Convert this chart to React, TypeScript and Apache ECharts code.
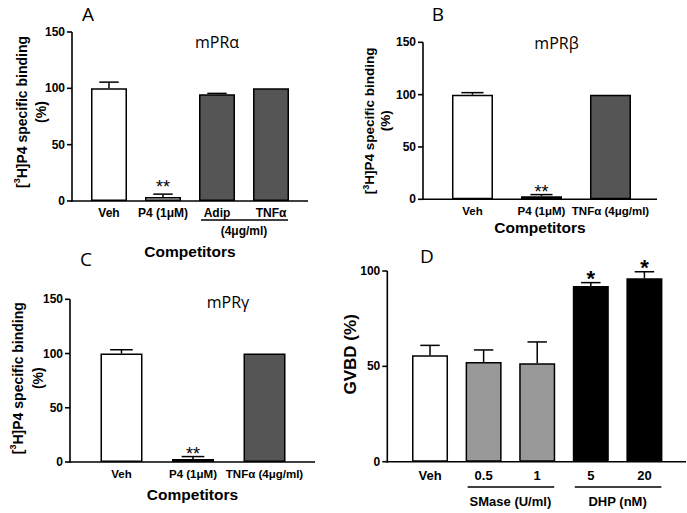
import React, { useEffect, useRef } from "react";
import * as echarts from "echarts";

// ---------- data ----------
const catsA = ["Veh", "P4 (1μM)", "Adip", "TNFα"];
const valsA = [100, 3.5, 94.7, 100];
const errA = [5.5, 2.6, 0.8, 0];
const sigA = ["", "**", "", ""];
const groupLabelsA = ["(4μg/ml)"];
const groupSpansA = [[2, 3]];

const catsB = ["Veh", "P4 (1μM)", "TNFα (4μg/ml)"];
const valsB = [100, 3.0, 100];
const errB = [1.9, 1.5, 0];
const sigB = ["", "**", ""];

const catsC = ["Veh", "P4 (1μM)", "TNFα (4μg/ml)"];
const valsC = [100, 2.8, 100];
const errC = [3.5, 2.2, 0];
const sigC = ["", "**", ""];

const catsD = ["Veh", "0.5", "1", "5", "20"];
const valsD = [55.8, 52.3, 51.6, 92.1, 96.2];
const errD = [5.2, 6.3, 11.2, 1.8, 3.4];
const sigD = ["", "", "", "*", "*"];
const groupLabelsD = ["SMase (U/ml)", "DHP (nM)"];
const groupSpansD = [[1, 2], [3, 4]];

const yTicksBinding = [0, 50, 100, 150];
const yTicksGVBD = [0, 50, 100];

const panelLetters = ["A", "B", "C", "D"];
const receptorTitles = ["mPRα", "mPRβ", "mPRγ"];
const bindingName = "[{s|3}H]P4 specific binding\n(%)";
const gvbdName = "GVBD (%)";
const xName = "Competitors";

// ---------- styles ----------
const FONT = '"Liberation Sans", Arial, sans-serif';
const TFONT = '"Open Sans", "Noto Sans", sans-serif';
const colorsA = ["#ffffff", "#d9d9d9", "#555555", "#555555"];
const colorsB = ["#ffffff", "#9a9a9a", "#555555"];
const colorsC = ["#ffffff", "#888888", "#555555"];
const colorsD = ["#ffffff", "#999999", "#999999", "#000000", "#000000"];

type Panel = {
  cats: string[];
  vals: number[];
  err: number[];
  sig: string[];
  colors: string[];
  yTicks: number[];
  groupLabels?: string[];
  groupSpans?: number[][];
  axisX: number; // pixel x of the y axis
  right: number; // pixel x of the end of the x axis
  top: number;
  height: number;
  gridL: number; // grid starts further left so the axis marks lie inside it
  padL: number;
  padR: number;
  barW: number;
  labelFont: number;
  labelMargin: number;
  yLabelFont: number;
  yName: string;
  yNameGap: number;
  yNamePad: number;
  yNameFont: number;
  yNameLH: number;
  xName?: string;
  xNameGap?: number;
  sigFont: number;
  sigBold: boolean;
  sigOff: number;
  groupFont?: number;
  groupLineOff?: number;
  groupTextOff?: number;
};

const panels: Panel[] = [
  {
    cats: catsA, vals: valsA, err: errA, sig: sigA, colors: colorsA, yTicks: yTicksBinding,
    groupLabels: groupLabelsA, groupSpans: groupSpansA,
    axisX: 72, right: 308, top: 32, height: 169, gridL: -20,
    padL: 0.685, padR: 0.685, barW: 36,
    labelFont: 12, labelMargin: 6, yLabelFont: 12,
    yName: bindingName, yNameGap: 22, yNamePad: 9, yNameFont: 14, yNameLH: 19,
    xName, xNameGap: 42,
    sigFont: 18, sigBold: false, sigOff: 7,
    groupFont: 12, groupLineOff: 19, groupTextOff: 30,
  },
  {
    cats: catsB, vals: valsB, err: errB, sig: sigB, colors: colorsB, yTicks: yTicksBinding,
    axisX: 423, right: 657, top: 42.3, height: 157, gridL: 340,
    padL: 0.717, padR: 0.674, barW: 41,
    labelFont: 11.5, labelMargin: 6, yLabelFont: 12,
    yName: bindingName, yNameGap: 30, yNamePad: 0, yNameFont: 13.5, yNameLH: 16,
    xName, xNameGap: 20,
    sigFont: 18, sigBold: false, sigOff: 3,
  },
  {
    cats: catsC, vals: valsC, err: errC, sig: sigC, colors: colorsC, yTicks: yTicksBinding,
    axisX: 70, right: 315, top: 299.3, height: 162.7, gridL: -20,
    padL: 0.72, padR: 0.706, barW: 42,
    labelFont: 11.5, labelMargin: 6, yLabelFont: 12,
    yName: bindingName, yNameGap: 22, yNamePad: 5, yNameFont: 14, yNameLH: 20,
    xName, xNameGap: 24,
    sigFont: 18, sigBold: false, sigOff: 3,
  },
  {
    cats: catsD, vals: valsD, err: errD, sig: sigD, colors: colorsD, yTicks: yTicksGVBD,
    groupLabels: groupLabelsD, groupSpans: groupSpansD,
    axisX: 387.3, right: 686, top: 271, height: 190.7, gridL: 336,
    padL: 0.797, padR: 0.776, barW: 36,
    labelFont: 13, labelMargin: 7, yLabelFont: 12,
    yName: gvbdName, yNameGap: 28, yNamePad: 24, yNameFont: 17, yNameLH: 18,
    sigFont: 22, sigBold: true, sigOff: 4,
    groupFont: 13, groupLineOff: 25.3, groupTextOff: 39.5,
  },
];

// positions of panel letters / receptor titles (layout)
const letterPos = [[88, 14], [438, 14], [86, 259], [427, 256]];
const titlePos = [[217, 42], [556.5, 43], [228, 302]];

const textStyle = (extra: any) => ({
  fill: "#000",
  fontFamily: FONT,
  align: "center",
  verticalAlign: "middle",
  textAlign: "center",
  textVerticalAlign: "middle",
  ...extra,
});

function buildOption() {
  const grid: any[] = [];
  const xAxis: any[] = [];
  const yAxis: any[] = [];
  const series: any[] = [];

  panels.forEach((p, k) => {
    const off = p.padL;
    const pos = (i: number) => i + off;
    const span = p.cats.length - 1 + p.padL + p.padR;
    const step = (p.right - p.axisX) / span;
    const extra = p.axisX - p.gridL;
    const yMax = p.yTicks[p.yTicks.length - 1];

    grid.push({
      left: p.gridL,
      top: p.top,
      width: p.right - p.gridL,
      height: p.height,
      containLabel: false,
      outerBoundsMode: "none",
    });
    xAxis.push({
      type: "value",
      gridIndex: k,
      min: -extra / step,
      max: span,
      axisLine: { show: false },
      axisTick: { show: false },
      splitLine: { show: false },
      axisLabel: {
        customValues: p.cats.map((_, i) => pos(i)),
        formatter: (v: number) => p.cats[Math.round(v - off)] ?? "",
        color: "#000",
        fontFamily: FONT,
        fontWeight: "bold",
        fontSize: p.labelFont,
        margin: p.labelMargin,
      },
      name: p.xName ?? "",
      nameLocation: "middle",
      nameGap: p.xNameGap ?? 20,
      nameTextStyle: {
        color: "#000",
        fontFamily: FONT,
        fontWeight: "bold",
        fontSize: 15.5,
        padding: [0, 0, 0, extra],
      },
    });
    yAxis.push({
      type: "value",
      gridIndex: k,
      min: 0,
      max: yMax,
      interval: p.yTicks[1] - p.yTicks[0],
      axisLine: { show: false, onZero: false },
      axisTick: { show: false },
      axisLabel: { show: false },
      splitLine: { show: false },
      name: p.yName,
      nameLocation: "middle",
      nameGap: p.yNameGap - extra,
      nameRotate: 90,
      nameTextStyle: {
        color: "#000",
        fontFamily: FONT,
        fontWeight: "bold",
        fontSize: p.yNameFont,
        lineHeight: p.yNameLH,
        padding: [0, 0, 0, p.yNamePad],
        rich: {
          s: {
            fontFamily: FONT,
            fontWeight: "bold",
            fontSize: 9,
            color: "#000",
            verticalAlign: "top",
            lineHeight: p.yNameLH,
          },
        },
      },
    });

    // axis lines, ticks and tick labels, placed through the axis scales
    series.push({
      type: "custom",
      xAxisIndex: k,
      yAxisIndex: k,
      clip: false,
      zlevel: 1,
      z: 10,
      silent: true,
      data: p.yTicks.map((t) => [0, t]),
      renderItem: (params: any, api: any) => {
        const t = api.value(1);
        const c = api.coord([0, t]);
        const children: any[] = [
          {
            type: "line",
            shape: { x1: c[0] - 5, y1: c[1], x2: c[0], y2: c[1] },
            style: { stroke: "#000", lineWidth: 1.6 },
          },
          {
            type: "text",
            x: c[0] - 7,
            y: c[1],
            style: textStyle({
              text: String(t),
              fontSize: p.yLabelFont,
              fontWeight: "bold",
              align: "right",
              textAlign: "right",
            }),
          },
        ];
        if (params.dataIndex === 0) {
          const top = api.coord([0, yMax]);
          const end = api.coord([span, 0]);
          children.push({
            type: "line",
            shape: { x1: c[0], y1: c[1] + 0.8, x2: top[0], y2: top[1] },
            style: { stroke: "#000", lineWidth: 1.6 },
          });
          children.push({
            type: "line",
            shape: { x1: c[0] - 0.8, y1: c[1], x2: end[0], y2: end[1] },
            style: { stroke: "#000", lineWidth: 1.6 },
          });
        }
        return { type: "group", children };
      },
    });

    series.push({
      type: "bar",
      xAxisIndex: k,
      yAxisIndex: k,
      barWidth: p.barW,
      data: p.vals.map((v, i) => ({
        value: [pos(i), v],
        itemStyle: { color: p.colors[i], borderColor: "#000", borderWidth: 1.5 },
      })),
      z: 2,
    });

    const capHalf = p.barW * 0.27;
    series.push({
      type: "custom",
      xAxisIndex: k,
      yAxisIndex: k,
      clip: false,
      z: 3,
      data: p.vals.map((v, i) => [pos(i), v, p.err[i]]),
      renderItem: (params: any, api: any) => {
        const i = params.dataIndex;
        const x = api.value(0);
        const v = api.value(1);
        const e = api.value(2);
        const p0 = api.coord([x, v]);
        const p1 = api.coord([x, v + e]);
        const children: any[] = [];
        if (e > 0) {
          children.push({
            type: "line",
            shape: { x1: p0[0], y1: p0[1], x2: p1[0], y2: p1[1] },
            style: { stroke: "#000", lineWidth: 1.5 },
          });
          children.push({
            type: "line",
            shape: { x1: p1[0] - capHalf, y1: p1[1], x2: p1[0] + capHalf, y2: p1[1] },
            style: { stroke: "#000", lineWidth: 1.5 },
          });
        }
        if (p.sig[i]) {
          children.push({
            type: "text",
            x: p1[0],
            y: p1[1] - p.sigOff,
            style: textStyle({
              text: p.sig[i],
              fontSize: p.sigFont,
              fontWeight: p.sigBold ? "bold" : "normal",
            }),
          });
        }
        return { type: "group", children };
      },
    });

    if (p.groupSpans && p.groupLabels) {
      const half = p.barW / 2;
      series.push({
        type: "custom",
        xAxisIndex: k,
        yAxisIndex: k,
        clip: false,
        z: 3,
        data: p.groupSpans.map((s) => [pos(s[0]), pos(s[1])]),
        renderItem: (params: any, api: any) => {
          const i = params.dataIndex;
          const a = api.coord([api.value(0), 0]);
          const b = api.coord([api.value(1), 0]);
          const y0 = a[1];
          const ly = y0 + (p.groupLineOff ?? 20);
          return {
            type: "group",
            children: [
              {
                type: "line",
                shape: { x1: a[0] - half + 2, y1: ly, x2: b[0] + half - 1, y2: ly },
                style: { stroke: "#000", lineWidth: 1.5 },
              },
              {
                type: "text",
                x: (a[0] + b[0]) / 2,
                y: y0 + (p.groupTextOff ?? 30),
                style: textStyle({
                  text: p.groupLabels![i],
                  fontSize: p.groupFont,
                  fontWeight: "bold",
                }),
              },
            ],
          };
        },
      });
    }
  });

  const graphic: any[] = [];
  panelLetters.forEach((t, i) => {
    graphic.push({
      type: "text",
      x: letterPos[i][0],
      y: letterPos[i][1],
      style: textStyle({ text: t, fontFamily: TFONT, fontSize: 19 }),
    });
  });
  receptorTitles.forEach((t, i) => {
    graphic.push({
      type: "text",
      x: titlePos[i][0],
      y: titlePos[i][1],
      style: textStyle({ text: t, fontFamily: TFONT, fontSize: 16 }),
    });
  });

  return {
    animation: false,
    backgroundColor: "#ffffff",
    grid,
    xAxis,
    yAxis,
    series,
    graphic,
  };
}

export default function App() {
  const ref = useRef<HTMLDivElement>(null);
  useEffect(() => {
    if (!ref.current) return;
    const chart = echarts.init(ref.current, null, { renderer: "svg" });
    chart.setOption(buildOption() as any);
    return () => chart.dispose();
  }, []);
  return (
    <div
      ref={ref}
      style={{ position: "fixed", left: 0, top: 0, width: 687, height: 513, background: "#fff" }}
    />
  );
}
